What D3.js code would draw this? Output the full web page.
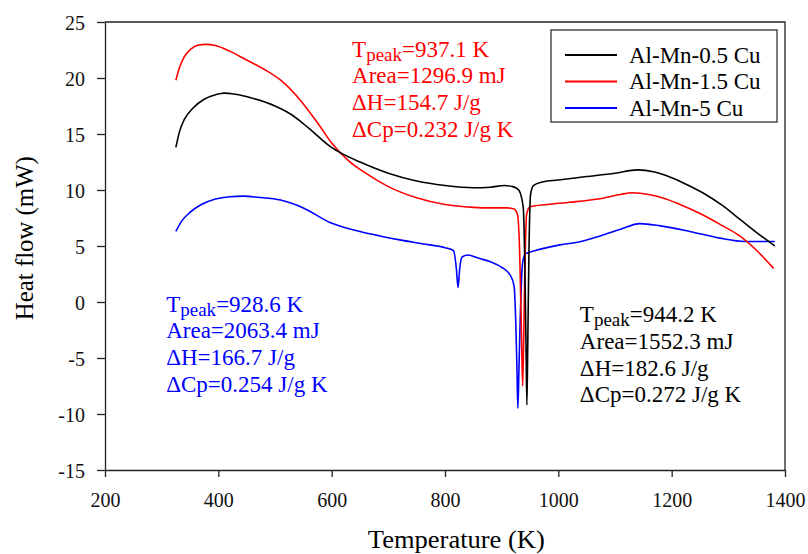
<!DOCTYPE html>
<html>
<head>
<meta charset="utf-8">
<script src="https://cdn.jsdelivr.net/npm/d3@7/dist/d3.min.js"></script>
<style>
  body { margin: 0; background: #fff; }
  text { font-family: "Liberation Serif", "Times New Roman", serif; }
</style>
</head>
<body>
<div id="chart"></div>
<script>
// series data: temperature (K) and heat flow (mW)
var seriesNames = ["Al-Mn-0.5 Cu", "Al-Mn-1.5 Cu", "Al-Mn-5 Cu"];
var seriesColors = ["#000000", "#ff0000", "#0000ff"];

var tempBlack = [325,332,340,355,375,395,410,430,460,500,530,560,597,620,650,700,750,800,850,880,905,920,930,938,941,943,944.5,946,948,951,956,970,1000,1050,1100,1140,1170,1200,1230,1260,1290,1320,1350,1382];
var flowBlack = [13.8,15.3,16.3,17.3,18.1,18.5,18.65,18.55,18.2,17.5,16.7,15.5,13.9,13.2,12.5,11.5,10.8,10.4,10.2,10.25,10.4,10.3,10.0,8.5,3,-4,-9.2,-4,4,9.6,10.4,10.7,10.9,11.2,11.5,11.8,11.6,11.1,10.4,9.6,8.6,7.4,6.2,5.0];

var tempRed = [325,332,340,352,365,378,395,420,450,480,510,545,575,600,630,660,700,750,800,850,880,910,922,928,932,935,937,939,941,944,950,980,1020,1070,1110,1130,1160,1190,1220,1250,1290,1320,1350,1380];
var flowRed = [19.8,21.0,21.9,22.6,22.95,23.0,22.9,22.4,21.6,20.8,19.8,18.0,16.0,14.2,12.6,11.5,10.3,9.3,8.7,8.45,8.4,8.4,8.3,7.8,4,-3,-7.5,-3,3,7.8,8.5,8.7,8.9,9.2,9.6,9.75,9.6,9.2,8.6,7.9,6.8,5.9,4.6,3.0];

var tempBlue = [325,335,350,370,395,420,445,470,510,550,597,650,685,720,760,800,815,820,823,826,830,840,860,880,900,915,922,925,927,928.6,930.5,933,937,942,960,1003,1040,1074,1110,1144,1180,1232,1285,1329,1382];
var flowBlue = [6.3,7.2,8.0,8.7,9.2,9.4,9.45,9.35,9.1,8.4,7.1,6.3,5.9,5.55,5.2,4.85,4.6,3.0,1.3,3.0,4.0,4.2,3.9,3.6,3.1,2.4,1.4,-2,-6,-9.5,-6,-1,3.5,4.3,4.6,5.1,5.4,5.9,6.5,7.0,6.8,6.3,5.7,5.4,5.4];

// axis ticks
var xTicks = [200,400,600,800,1000,1200,1400];
var yTicks = [-15,-10,-5,0,5,10,15,20,25];

// annotation text blocks: [temperature, heat flow] anchor for first baseline
var annoColors = ["#ff0000", "#0000ff", "#000000"];
var annoAnchor = [[636, 21.9], [308, -0.85], [1038, -1.8]];
var annoPeak = ["=937.1 K", "=928.6 K", "=944.2 K"];
var annoLines = [
  ["Area=1296.9 mJ", "\u0394H=154.7 J/g", "\u0394Cp=0.232 J/g K"],
  ["Area=2063.4 mJ", "\u0394H=166.7 J/g", "\u0394Cp=0.254 J/g K"],
  ["Area=1552.3 mJ", "\u0394H=182.6 J/g", "\u0394Cp=0.272 J/g K"]
];

var W = 808, H = 554;
var margin = {left: 105, top: 22, right: 23, bottom: 84};
var width = W - margin.left - margin.right,
    height = H - margin.top - margin.bottom;

var svg = d3.select("#chart").append("svg")
    .attr("width", W)
    .attr("height", H);

var g = svg.append("g")
    .attr("transform", "translate(" + margin.left + "," + margin.top + ")");

var x = d3.scaleLinear().domain([200, 1400]).range([0, width]);
var y = d3.scaleLinear().domain([-15, 25]).range([height, 0]);

// frame (top and right)
g.append("path")
    .attr("d", "M0,0H" + width + "V" + height)
    .attr("fill", "none")
    .attr("stroke", "#222")
    .attr("stroke-width", 1.3);

var plain = function(d) { return String(d); };

var xAxis = g.append("g")
    .attr("transform", "translate(0," + height + ")")
    .call(d3.axisBottom(x).tickValues(xTicks).tickFormat(plain).tickSize(7).tickSizeOuter(0));
xAxis.selectAll("text")
    .attr("y", 37).attr("dy", 0)
    .style("font-size", "20px")
    .style("font-family", "Liberation Serif")
    .attr("fill", "#111");

var yAxis = g.append("g")
    .call(d3.axisLeft(y).tickValues(yTicks).tickFormat(plain).tickSize(8).tickSizeOuter(0));
yAxis.selectAll("text")
    .attr("x", -20).attr("dy", "0.35em")
    .style("font-size", "20px")
    .style("font-family", "Liberation Serif")
    .attr("fill", "#111");

[xAxis, yAxis].forEach(function(a) {
    a.select(".domain").attr("stroke", "#222").attr("stroke-width", 1.3);
    a.selectAll(".tick line").attr("stroke", "#222").attr("stroke-width", 1.3);
});

// axis titles
svg.append("text")
    .attr("x", margin.left + x(820))
    .attr("y", 548)
    .attr("text-anchor", "middle")
    .style("font-size", "25px")
    .attr("textLength", 177)
    .attr("lengthAdjust", "spacingAndGlyphs")
    .text("Temperature (K)");

svg.append("text")
    .attr("transform", "translate(33," + (margin.top + y(5.7)) + ") rotate(-90)")
    .attr("text-anchor", "middle")
    .style("font-size", "25px")
    .attr("textLength", 164)
    .attr("lengthAdjust", "spacingAndGlyphs")
    .text("Heat flow (mW)");

// curves
var series = [
  {t: tempBlack, v: flowBlack},
  {t: tempRed, v: flowRed},
  {t: tempBlue, v: flowBlue}
];

var line = d3.line()
    .x(function(d) { return x(d[0]); })
    .y(function(d) { return y(d[1]); })
    .curve(d3.curveMonotoneX);

// draw blue first, then red, then black on top
[2, 1, 0].forEach(function(i) {
    var pts = series[i].t.map(function(t, k) { return [t, series[i].v[k]]; });
    g.append("path")
        .datum(pts)
        .attr("fill", "none")
        .attr("stroke", seriesColors[i])
        .attr("stroke-width", 1.6)
        .attr("d", line);
});

// annotations
annoAnchor.forEach(function(a, i) {
    var tx = g.append("text")
        .attr("x", x(a[0]))
        .attr("y", y(a[1]))
        .attr("fill", annoColors[i])
        .style("font-size", "23px");
    tx.append("tspan").text("T");
    tx.append("tspan").attr("dy", 4).style("font-size", "19px").text("peak");
    tx.append("tspan").attr("dy", -4).text(annoPeak[i]);

    annoLines[i].forEach(function(s, k) {
        g.append("text")
            .attr("x", x(a[0]))
            .attr("y", y(a[1]) + 26.7 * (k + 1))
            .attr("fill", annoColors[i])
            .style("font-size", "23px")
            .text(s);
    });
});

// legend
var legend = svg.append("g").attr("transform", "translate(551,30)");
legend.append("rect")
    .attr("width", 226).attr("height", 92)
    .attr("fill", "#fff")
    .attr("stroke", "#333")
    .attr("stroke-width", 1.3);

seriesNames.forEach(function(n, i) {
    var row = legend.append("g").attr("transform", "translate(0," + (25 + i * 26.5) + ")");
    row.append("line")
        .attr("x1", 14).attr("x2", 66)
        .attr("stroke", seriesColors[i])
        .attr("stroke-width", 1.8);
    row.append("text")
        .attr("x", 78).attr("dy", "0.33em")
        .style("font-size", "23px")
        .text(n);
});
</script>
</body>
</html>
